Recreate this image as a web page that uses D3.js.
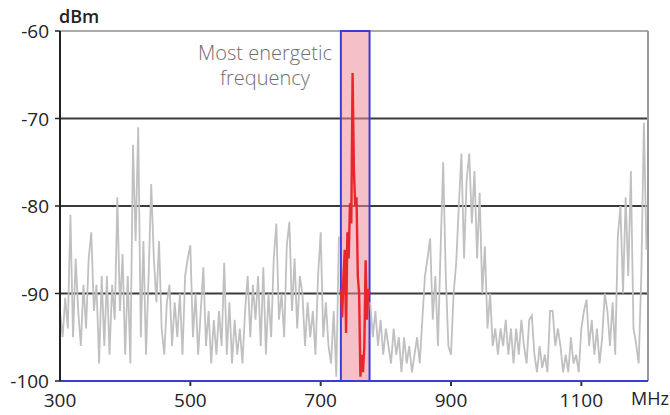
<!DOCTYPE html>
<html>
<head>
<meta charset="utf-8">
<script src="https://cdn.jsdelivr.net/npm/d3@7"></script>
<style>
  body { margin: 0; background: #fff; }
  svg text { font-family: "Open Sans", "Noto Sans", sans-serif; }
</style>
</head>
<body>
<svg id="chart" width="670" height="415"></svg>
<script>
// spectrum readings, 4 MHz apart starting at 300 MHz (null = inside highlighted band)
const freqStart = 300
const freqStep = 4
const spectrum = [
  -92, -95, -90.5, -94, -81, -95, -86, -92, -96, -89,
  -94, -86, -83, -92, -89, -98, -88, -96, -88, -97,
  -89, -93, -79, -92, -85.5, -97, -88, -98, -73, -84,
  -71, -95, -84, -97, -88, -77.5, -86, -91, -84, -94,
  -97, -91, -89, -96, -91, -95, -90, -97, -88, -86,
  -84.5, -95, -90, -97, -92, -87, -96, -92, -98, -93,
  -97, -92, -96, -86.5, -97, -91, -98, -93, -97, -94,
  -98, -92, -88, -95, -89, -93, -88, -96, -87, -97,
  -90, -95, -86, -82, -93, -90, -95, -84.5, -81.8, -92,
  -86, -94, -88, -90, -96, -91, -95, -92, -97, -88,
  -83, -95, -91, -96, -98, -92, -99.5, -83.5, null, null,
  null, null, null, null, null, null, null, null, null, -91,
  -95, -92, -96, -93, -97, -94, -96, -98, -94, -97,
  -95, -99, -95, -98, -96, -99, -97, -95, -98, -93,
  -88, -86, -83.7, -93, -88, -96, -85, -75, -88, -96,
  -97, -90, -86.5, -80, -74, -86, -77, -74, -82, -76,
  -86, -78.5, -90, -84.6, -94, -90, -96, -94, -97, -94,
  -96, -93, -97, -94, -98, -94, -97, -93, -96, -98,
  -93, -92.5, -97, -99, -96, -98.5, -97, -99, -92, -92,
  -96, -94, -96, -99, -97, -99, -95, -98, -97, -99,
  -94, -92, -90.7, -96, -93, -97, -94, -98, -95, -90,
  -92, -96, -91, -97, -83.5, -80, -90, -79, -88, -76,
  -94, -95.7, -98, -88, -70.5, -85
]

// the highlighted band
const bandFreq = [731, 733, 735, 737, 739, 741, 743, 745, 747, 749, 751, 753,
  755, 757, 759, 761, 763, 765, 767, 769, 771, 773, 775]
const bandLevel = [-89.6, -92.7, -88, -85, -94.5, -83, -86, -79.7, -82, -64.8, -75.8, -80,
  -79, -88, -90, -99.5, -97, -99, -96, -86.2, -93, -89.5, -90]
const band = [731, 775]

const xTicks = [300, 500, 700, 900, 1100]
const yTicks = [-60, -70, -80, -90, -100]
const note = ["Most energetic", "frequency"]

const svg = d3.select("#chart")
const pLeft = 60, pRight = 648, pTop = 31, pBottom = 381

const x = d3.scaleLinear().domain([300, 1200]).range([pLeft, pRight - 1.5])
const y = d3.scaleLinear().domain([-100, -60]).range([pBottom, pTop])

// grid
svg.append("g")
  .selectAll("line")
  .data([-70, -80, -90])
  .join("line")
  .attr("x1", pLeft).attr("x2", pRight)
  .attr("y1", d => y(d)).attr("y2", d => y(d))
  .style("stroke", "#3a3a3a")
  .style("stroke-width", 2)

svg.append("line")
  .attr("x1", pLeft).attr("x2", pRight)
  .attr("y1", pTop).attr("y2", pTop)
  .style("stroke", "#aaa").style("stroke-width", 2)

svg.append("line")
  .attr("x1", pRight).attr("x2", pRight)
  .attr("y1", pTop).attr("y2", pBottom)
  .style("stroke", "#999").style("stroke-width", 2)

// band box
svg.append("rect")
  .attr("x", x(band[0]))
  .attr("y", pTop)
  .attr("width", x(band[1]) - x(band[0]))
  .attr("height", pBottom - pTop)
  .style("fill", "rgba(238,140,155,0.55)")
  .style("stroke", "#3b3bdc")
  .style("stroke-width", 2)

// grey spectrum
const pts = spectrum.map((v, i) => ({ f: freqStart + i * freqStep, v: v }))
const line = d3.line()
  .defined(d => d.v != null)
  .x(d => x(d.f))
  .y(d => y(d.v))

svg.append("path")
  .datum(pts)
  .attr("d", line)
  .style("fill", "none")
  .style("stroke", "#c0c0c0")
  .style("stroke-width", 1.8)

svg.append("path")
  .datum(bandFreq.map((f, i) => ({ f: f, v: bandLevel[i] })))
  .attr("d", line)
  .style("fill", "none")
  .style("stroke", "#e8262b")
  .style("stroke-width", 2.4)

// x axis
svg.append("line")
  .attr("x1", pLeft).attr("x2", pRight)
  .attr("y1", pBottom).attr("y2", pBottom)
  .style("stroke", "#3b3bdc").style("stroke-width", 2)

const xg = svg.append("g")
xg.selectAll("line")
  .data(xTicks.slice(1))
  .join("line")
  .attr("x1", d => x(d)).attr("x2", d => x(d))
  .attr("y1", pBottom + 1).attr("y2", pBottom + 5)
  .style("stroke", "#333").style("stroke-width", 2)
xg.selectAll("text")
  .data(xTicks)
  .join("text")
  .attr("x", d => x(d))
  .attr("y", 407)
  .attr("text-anchor", "middle")
  .style("font-size", "19px")
  .style("fill", "#222")
  .text(d => d)

svg.append("text")
  .attr("x", 650).attr("y", 405)
  .attr("text-anchor", "middle")
  .style("font-size", "18px")
  .style("fill", "#222")
  .text("MHz")

// y axis
svg.append("line")
  .attr("x1", pLeft).attr("x2", pLeft)
  .attr("y1", pTop).attr("y2", pBottom)
  .style("stroke", "#222").style("stroke-width", 2)

const yg = svg.append("g")
yg.selectAll("line")
  .data(yTicks)
  .join("line")
  .attr("x1", pLeft - 5).attr("x2", pLeft)
  .attr("y1", d => y(d)).attr("y2", d => y(d))
  .style("stroke", "#222").style("stroke-width", 1.5)
yg.selectAll("text")
  .data(yTicks)
  .join("text")
  .attr("x", 49)
  .attr("y", d => y(d) + 7)
  .attr("text-anchor", "end")
  .style("font-size", "19px")
  .style("fill", "#222")
  .text(d => d)

svg.append("text")
  .attr("x", 59).attr("y", 23)
  .style("font-size", "18px")
  .style("font-weight", 600)
  .style("fill", "#222")
  .text("dBm")

// annotation
svg.append("text")
  .attr("text-anchor", "middle")
  .style("font-size", "20px")
  .style("font-weight", 300)
  .style("fill", "#6e6e6e")
  .selectAll("tspan")
  .data(note)
  .join("tspan")
  .attr("x", 265)
  .attr("y", (d, i) => 60 + i * 25)
  .text(d => d)
</script>
</body>
</html>
